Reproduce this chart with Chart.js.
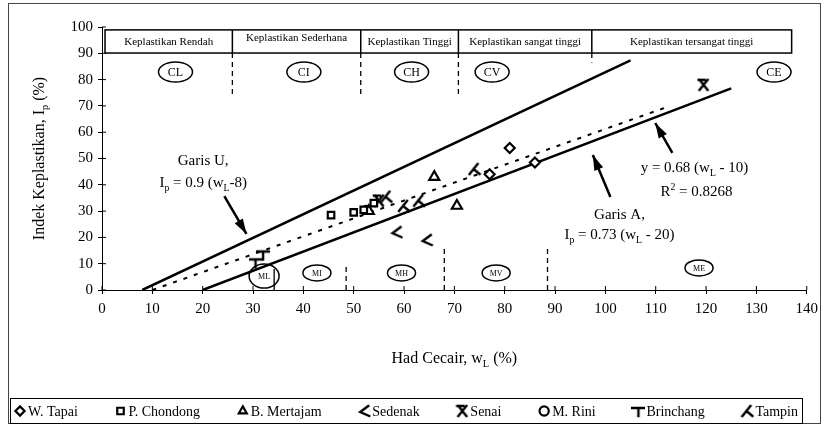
<!DOCTYPE html>
<html>
<head>
<meta charset="utf-8">
<script src="https://cdn.jsdelivr.net/npm/chart.js@4.4.1/dist/chart.umd.min.js"></script>
<style>
  html, body { margin: 0; padding: 0; background: #fff; }
  #wrap { width: 824px; height: 426px; }
</style>
</head>
<body>
<div id="wrap"><canvas id="chart"></canvas></div>
<script>
// series (liquid limit wL, plasticity index Ip)
const wTapai = [[77, 44], [81, 54], [86, 48.5]];
const pChondong = [[45.5, 28.5], [50, 29.5], [52, 30.5], [54, 33]];
const bMertajam = [[53, 30], [66, 43], [70.5, 32]];
const sedenak = [[58.5, 22], [64.5, 19]];
const senai = [[55, 34], [119.5, 78]];
const mRini = [[52.5, 30.5]];
const brinchang = [[30.5, 10.5], [32, 13.5]];
const tampin = [[56.5, 35.5], [60, 32], [63, 34], [74, 46]];

// reference lines
const garisU = [[8, 0], [105, 87.3]];
const garisA = [[20, 0], [125, 76.65]];
const trend = [[10, 0], [112, 69.4]];

const xTicks = [0, 10, 20, 30, 40, 50, 60, 70, 80, 90, 100, 110, 120, 130, 140];
const yTicks = [0, 10, 20, 30, 40, 50, 60, 70, 80, 90, 100];

// plasticity bands across the top
const bandEdges = [0.6, 25.9, 51.4, 70.8, 97.3, 137];
const bandNames = ["Keplastikan Rendah", "Keplastikan Sederhana", "Keplastikan Tinggi",
  "Keplastikan sangat tinggi", "Keplastikan tersangat tinggi"];
const clayLabels = [["CL", 14.6], ["CI", 40.1], ["CH", 61.5], ["CV", 77.5], ["CE", 133.5]];
const siltLabels = [["ML", 32.2, 5.3], ["MI", 42.7, 6.5], ["MH", 59.5, 6.5], ["MV", 78.3, 6.5], ["ME", 118.6, 8.4]];

const pts = a => a.map(p => ({ x: p[0], y: p[1] }));
const FONT = "'Liberation Serif', 'DejaVu Serif', serif";

function glyph(draw) {
  const c = document.createElement("canvas");
  c.width = 14; c.height = 14;
  const g = c.getContext("2d");
  g.strokeStyle = "#000";
  g.lineWidth = 2.4;
  g.lineCap = "square";
  g.beginPath();
  draw(g);
  g.stroke();
  return c;
}
const sedenakMark = glyph(g => { g.moveTo(11, 2); g.lineTo(3, 8); g.lineTo(12, 12); });
const senaiMark = glyph(g => { g.moveTo(3, 2); g.lineTo(11, 12); g.moveTo(11, 2); g.lineTo(3, 12); g.moveTo(2, 2); g.lineTo(8, 2); });
const brinchangMark = glyph(g => { g.moveTo(1, 4); g.lineTo(13, 4); g.moveTo(7, 4); g.lineTo(7, 12); });
const tampinMark = glyph(g => { g.moveTo(2, 12); g.lineTo(10, 2); g.moveTo(6, 7); g.lineTo(12, 12); });

function pointSet(label, data, style, radius) {
  return {
    type: "scatter", label: label, data: pts(data), pointStyle: style,
    pointRadius: radius || 5, pointBorderWidth: 2.2, borderColor: "#000",
    backgroundColor: "#fff", order: 1
  };
}
function lineSet(label, data, dash) {
  return {
    type: "line", label: label, data: pts(data), borderColor: "#000",
    borderWidth: dash ? 2 : 2.5, borderDash: dash || [], pointRadius: 0,
    fill: false, showLine: true, order: 2
  };
}

// draw text with subscript / superscript parts: [text, mode]
function richText(ctx, parts, cx, cy, size) {
  let w = 0;
  parts.forEach(p => {
    ctx.font = (p[1] ? size * 0.65 : size) + "px " + FONT;
    w += ctx.measureText(p[0]).width;
  });
  let x = cx - w / 2;
  ctx.textAlign = "left";
  ctx.textBaseline = "alphabetic";
  parts.forEach(p => {
    const s = p[1] ? size * 0.65 : size;
    ctx.font = s + "px " + FONT;
    const dy = p[1] === "sub" ? size * 0.25 : p[1] === "sup" ? -size * 0.4 : 0;
    ctx.fillText(p[0], x, cy + size * 0.35 + dy);
    x += ctx.measureText(p[0]).width;
  });
}
function arrow(ctx, x1, y1, x2, y2) {
  ctx.beginPath();
  ctx.moveTo(x1, y1);
  ctx.lineTo(x2, y2);
  ctx.lineWidth = 2.5;
  ctx.stroke();
  const a = Math.atan2(y2 - y1, x2 - x1);
  ctx.beginPath();
  ctx.moveTo(x2, y2);
  ctx.lineTo(x2 - 16 * Math.cos(a - 0.3), y2 - 16 * Math.sin(a - 0.3));
  ctx.lineTo(x2 - 16 * Math.cos(a + 0.3), y2 - 16 * Math.sin(a + 0.3));
  ctx.closePath();
  ctx.fill();
}

const decor = {
  id: "decor",
  beforeDatasetsDraw(chart) {
    const ctx = chart.ctx, xs = chart.scales.x, ys = chart.scales.y;
    const X = v => xs.getPixelForValue(v), Y = v => ys.getPixelForValue(v);
    ctx.save();
    ctx.strokeStyle = "#000";
    ctx.fillStyle = "#000";

    // inner half of the tick crosses
    ctx.lineWidth = 1;
    ctx.beginPath();
    xTicks.forEach(t => { ctx.moveTo(X(t), Y(0)); ctx.lineTo(X(t), Y(0) - 4); });
    yTicks.forEach(t => { ctx.moveTo(X(0), Y(t)); ctx.lineTo(X(0) + 4, Y(t)); });
    ctx.stroke();

    // band header
    ctx.lineWidth = 1.5;
    const top = Y(98.9), bot = Y(90.1);
    ctx.strokeRect(X(bandEdges[0]), top, X(bandEdges[5]) - X(bandEdges[0]), bot - top);
    ctx.beginPath();
    for (let i = 1; i < 5; i++) { ctx.moveTo(X(bandEdges[i]), top); ctx.lineTo(X(bandEdges[i]), bot); }
    ctx.stroke();
    ctx.font = "11px " + FONT;
    ctx.textAlign = "center";
    ctx.textBaseline = "middle";
    bandNames.forEach((n, i) => {
      const cy = i === 1 ? top + 8 : (top + bot) / 2 + 1;
      ctx.fillText(n, (X(bandEdges[i]) + X(bandEdges[i + 1])) / 2, cy);
    });

    // dashed separators
    ctx.setLineDash([5, 4]);
    ctx.lineWidth = 1.3;
    ctx.beginPath();
    [25.9, 51.4, 70.8].forEach(v => { ctx.moveTo(X(v), bot); ctx.lineTo(X(v), Y(74)); });
    ctx.moveTo(X(97.3), bot); ctx.lineTo(X(97.3), Y(86.5));
    [[48.5, 10], [68, 16], [88.5, 16]].forEach(d => { ctx.moveTo(X(d[0]), Y(0)); ctx.lineTo(X(d[0]), Y(d[1])); });
    ctx.stroke();
    ctx.setLineDash([]);
    ctx.beginPath();
    ctx.moveTo(X(34.2), Y(0)); ctx.lineTo(X(34.2), Y(8));
    ctx.stroke();

    // ellipses
    ctx.lineWidth = 1.5;
    clayLabels.forEach(c => {
      ctx.beginPath();
      ctx.ellipse(X(c[1]), Y(82.9), 17, 10, 0, 0, Math.PI * 2);
      ctx.stroke();
      ctx.font = "12px " + FONT;
      ctx.fillText(c[0], X(c[1]), Y(82.9) + 1);
    });
    siltLabels.forEach((c, i) => {
      ctx.beginPath();
      ctx.ellipse(X(c[1]), Y(c[2]), i === 0 ? 15 : 14, i === 0 ? 12 : 8, 0, 0, Math.PI * 2);
      ctx.stroke();
      ctx.font = "8px " + FONT;
      ctx.fillText(c[0], X(c[1]), Y(c[2]) + 1);
    });

    // annotations
    richText(ctx, [["Garis U,"]], X(20.1), Y(49.4), 15);
    richText(ctx, [["I"], ["p", "sub"], [" = 0.9 (w"], ["L", "sub"], ["-8)"]], X(20.1), Y(41.1), 15);
    richText(ctx, [["y = 0.68 (w"], ["L", "sub"], [" - 10)"]], X(117.7), Y(46.8), 15);
    richText(ctx, [["R"], ["2", "sup"], [" = 0.8268"]], X(118.1), Y(37.6), 15);
    richText(ctx, [["Garis A,"]], X(102.8), Y(28.9), 15);
    richText(ctx, [["I"], ["p", "sub"], [" = 0.73 (w"], ["L", "sub"], [" - 20)"]], X(102.8), Y(21.3), 15);
    arrow(ctx, X(24.3), Y(35.7), X(28.7), Y(21.3));
    arrow(ctx, X(113.3), Y(52.1), X(109.9), Y(63.5));
    arrow(ctx, X(101), Y(35.4), X(97.5), Y(51.3));

    // axis titles
    richText(ctx, [["Had Cecair, w"], ["L", "sub"], [" (%)"]], (xs.left + xs.right) / 2, 357, 16);
    ctx.save();
    ctx.translate(38, (ys.top + ys.bottom) / 2);
    ctx.rotate(-Math.PI / 2);
    richText(ctx, [["Indek Keplastikan, I"], ["p", "sub"], [" (%)"]], 0, 0, 16);
    ctx.restore();
    ctx.restore();
  },
  afterDraw(chart) {
    const ctx = chart.ctx;
    ctx.save();
    ctx.strokeStyle = "#444";
    ctx.lineWidth = 1;
    ctx.strokeRect(8.5, 3.5, 812, 420);
    ctx.strokeStyle = "#000";
    ctx.strokeRect(10.5, 398.5, 792, 25);

    // legend across the bottom box
    const sets = chart.data.datasets.slice(0, 8);
    ctx.font = "14px " + FONT;
    const widths = sets.map(d => 12 + ctx.measureText(d.label).width);
    const total = widths.reduce((a, b) => a + b, 0);
    const gap = (798 - 16 - total) / (sets.length - 1);
    let x = 16;
    ctx.textAlign = "left";
    ctx.textBaseline = "middle";
    sets.forEach((d, i) => {
      ctx.fillStyle = "#fff";
      ctx.strokeStyle = "#000";
      ctx.lineWidth = 2.2;
      Chart.helpers.drawPoint(ctx, {
        pointStyle: d.pointStyle, radius: 4.6, borderWidth: 2.2, rotation: 0
      }, x + 4, 411);
      ctx.fillStyle = "#000";
      ctx.font = "14px " + FONT;
      ctx.fillText(d.label, x + 12, 412);
      x += widths[i] + gap;
    });
    ctx.restore();
  }
};

new Chart(document.getElementById("chart"), {
  data: {
    datasets: [
      pointSet("W. Tapai", wTapai, "rectRot", 5),
      pointSet("P. Chondong", pChondong, "rect", 4.6),
      pointSet("B. Mertajam", bMertajam, "triangle", 5.8),
      pointSet("Sedenak", sedenak, sedenakMark),
      pointSet("Senai", senai, senaiMark),
      pointSet("M. Rini", mRini, "circle", 4),
      pointSet("Brinchang", brinchang, brinchangMark),
      pointSet("Tampin", tampin, tampinMark),
      lineSet("Garis U", garisU),
      lineSet("Garis A", garisA),
      lineSet("Trend", trend, [4, 7])
    ]
  },
  options: {
    responsive: true,
    maintainAspectRatio: false,
    animation: false,
    layout: { padding: { left: 8, right: 14, top: 27, bottom: 0 } },
    scales: {
      x: {
        type: "linear", min: 0, max: 140,
        afterBuildTicks: s => { s.ticks = xTicks.map(v => ({ value: v })); },
        afterFit: s => { s.height = 136; },
        border: { color: "#000", width: 1 },
        grid: { display: true, drawOnChartArea: false, drawTicks: true, tickLength: 4, color: "#000" },
        ticks: { color: "#000", font: { family: FONT, size: 15 }, padding: 6 }
      },
      y: {
        type: "linear", min: 0, max: 100,
        afterBuildTicks: s => { s.ticks = yTicks.map(v => ({ value: v })); },
        afterFit: s => { s.width = 94; },
        border: { color: "#000", width: 1 },
        grid: { display: true, drawOnChartArea: false, drawTicks: true, tickLength: 4, color: "#000" },
        ticks: { color: "#000", font: { family: FONT, size: 15 }, padding: 5 }
      }
    },
    plugins: {
      legend: { display: false },
      tooltip: { enabled: false }
    }
  },
  plugins: [decor]
});
</script>
</body>
</html>
